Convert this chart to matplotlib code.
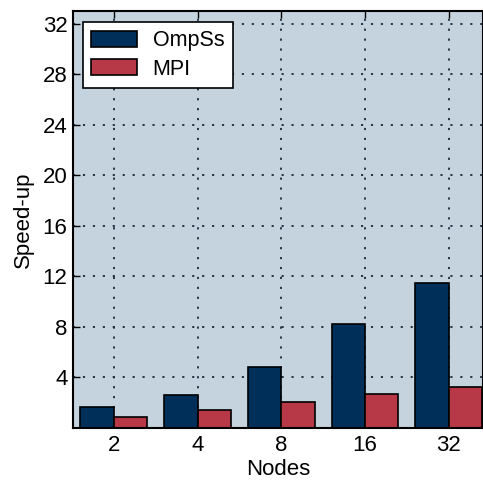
import matplotlib
matplotlib.use("Agg")
import matplotlib.pyplot as plt
import numpy as np

plt.rcParams['font.family'] = ['Liberation Sans', 'DejaVu Sans']

nodes = ["2", "4", "8", "16", "32"]
ompss = [1.63, 2.58, 4.79, 8.24, 11.51]
mpi = [0.89, 1.41, 2.05, 2.68, 3.21]
yticks = [4, 8, 12, 16, 20, 24, 28, 32]

fig = plt.figure(figsize=(4.83, 4.83), dpi=100)
ax = fig.add_axes([0.151, 0.114, 0.849, 0.863])
ax.set_facecolor('#c5d3de')

x = np.arange(len(nodes))
w = 0.4
ax.bar(x - w / 2, ompss, w, color='#00305a', edgecolor='black', linewidth=1.2,
       label='OmpSs', zorder=2)
ax.bar(x + w / 2, mpi, w, color='#b73847', edgecolor='black', linewidth=1.2,
       label='MPI', zorder=2)

ax.set_xlim(-0.49, 4.41)
ax.set_ylim(0, 33)
ax.set_xticks(x)
ax.set_xticklabels(nodes)
ax.set_yticks(yticks)
ax.tick_params(axis='both', direction='in', length=5, width=1, labelsize=16,
               top=True, right=False)
ax.tick_params(axis='x', pad=5)
ax.tick_params(axis='y', pad=4)
ax.grid(True, linestyle=(0, (1.2, 4.3)), color='#1a2a3a', linewidth=1.3, zorder=1)
ax.set_axisbelow(True)
for s in ax.spines.values():
    s.set_linewidth(1.5)

ax.set_xlabel('Nodes', fontsize=16, labelpad=2)
ax.set_ylabel('Speed-up', fontsize=16, labelpad=6)

leg = ax.legend(loc='upper left', fontsize=15.5, fancybox=False, framealpha=1,
                edgecolor='black', handlelength=2.1, handleheight=0.75,
                borderpad=0.4, labelspacing=0.35, handletextpad=0.75,
                borderaxespad=0, bbox_to_anchor=(0.024, 0.975))
leg.get_frame().set_linewidth(1.2)

fig.savefig('out.png', dpi=100)
